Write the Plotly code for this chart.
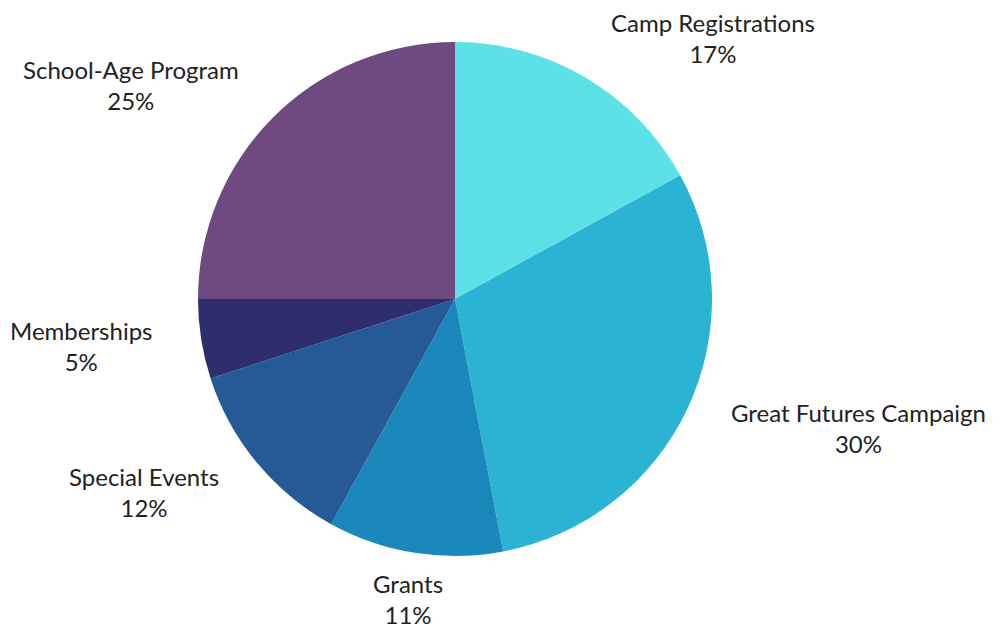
import math
import plotly.graph_objects as go

labels = ["Camp Registrations", "Great Futures Campaign", "Grants", "Special Events", "Memberships", "School-Age Program"]
values = [17, 30, 11, 12, 5, 25]
colors = ["#5CE1E6", "#2BB3D4", "#1A88BA", "#265A96", "#2E2E6E", "#6E4A80"]

fig = go.Figure(go.Pie(
    labels=labels,
    values=values,
    sort=False,
    direction="clockwise",
    rotation=0,
    marker=dict(colors=colors, line=dict(width=0)),
    textinfo="none",
    showlegend=False,
    hoverinfo="label+percent",
))

# label annotations placed along each slice's mid angle
total = sum(values)
k = 1.18
annotations = []
cum = 0
for lab, v in zip(labels, values):
    mid = (cum + v / 2) / total * 2 * math.pi
    cum += v
    s, c = math.sin(mid), math.cos(mid)
    if s > 0.2:
        xa = "left"
    elif s < -0.2:
        xa = "right"
    else:
        xa = "center"
    annotations.append(dict(
        x=0.5 + 0.5 * k * s, y=0.5 + 0.5 * k * c,
        xref="paper", yref="paper",
        text=f"{lab}<br>{round(v / total * 100)}%",
        showarrow=False, xanchor=xa, yanchor="middle", align="center",
        font=dict(family="Lato", size=24, color="#222222"),
    ))

fig.update_layout(
    width=1003, height=624,
    margin=dict(l=190, r=299, t=34, b=76, autoexpand=False),
    paper_bgcolor="white",
    plot_bgcolor="white",
    font=dict(family="Lato", size=24, color="#222222"),
    annotations=annotations,
)
fig.write_html("out.html")
